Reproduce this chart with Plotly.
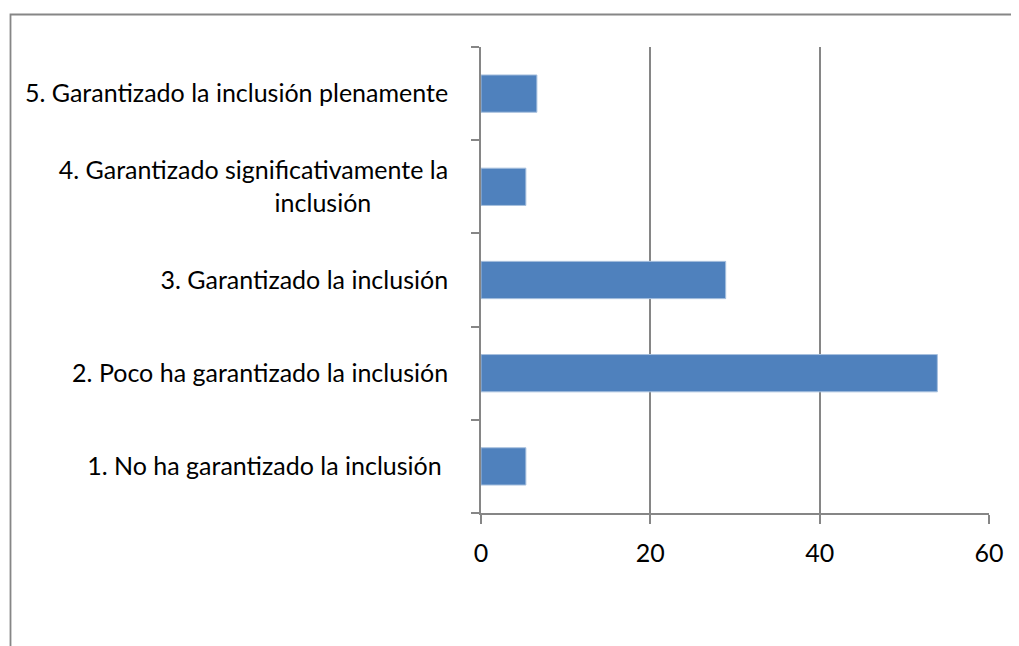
import plotly.graph_objects as go

# Data
categories = [
    "1. No ha garantizado la inclusión\u00a0",
    "2. Poco ha garantizado la inclusión",
    "3. Garantizado la inclusión",
    "4. Garantizado significativamente la<br>inclusión" + "\u00a0" * 12,
    "5. Garantizado la inclusión plenamente",
]
values = [5.3, 53.9, 28.9, 5.3, 6.6]
x_ticks = [0, 20, 40, 60]

# page body has an 8px margin, so the figure is a bit smaller than the window
W, H = 1011, 638
L, R, T, B = 473, 30, 39, 133
AXIS = "#868686"
FONT = "Lato, Carlito, Calibri, sans-serif"

fig = go.Figure(go.Bar(
    x=values,
    y=categories,
    orientation="h",
    marker=dict(color="#4F81BD", line=dict(color="#A7C0DE", width=1)),
    hoverinfo="x+y",
))

# outer frame of the chart area, computed in paper units
pw, ph = W - L - R, H - T - B
def px_x(p):
    return (p - L) / pw
def px_y(p):
    return (H - B - p) / ph

fig.add_shape(type="rect", xref="paper", yref="paper",
              x0=px_x(2.5), x1=px_x(W + 20), y0=px_y(H + 20), y1=px_y(6.5),
              line=dict(color=AXIS, width=1.8), fillcolor="rgba(0,0,0,0)", layer="below")

fig.update_layout(
    width=W, height=H,
    margin=dict(l=L, r=R, t=T, b=B),
    paper_bgcolor="white", plot_bgcolor="white",
    font=dict(family=FONT, size=25, color="#000000"),
    bargap=0.6,
    showlegend=False,
    xaxis=dict(
        range=[0, 60], tickvals=x_ticks,
        showgrid=True, gridcolor=AXIS, gridwidth=1.8,
        showline=True, linecolor=AXIS, linewidth=1.8,
        ticks="outside", ticklen=9, tickcolor=AXIS, tickwidth=1.8,
        ticklabelstandoff=8,
        zeroline=False, fixedrange=True,
    ),
    yaxis=dict(
        type="category", categoryorder="array", categoryarray=categories,
        showgrid=False,
        showline=True, linecolor=AXIS, linewidth=1.8,
        ticks="outside", tickson="boundaries", ticklen=8, tickcolor=AXIS, tickwidth=1.8,
        ticklabelstandoff=26,
        fixedrange=True,
    ),
)

fig.write_html("out.html")
